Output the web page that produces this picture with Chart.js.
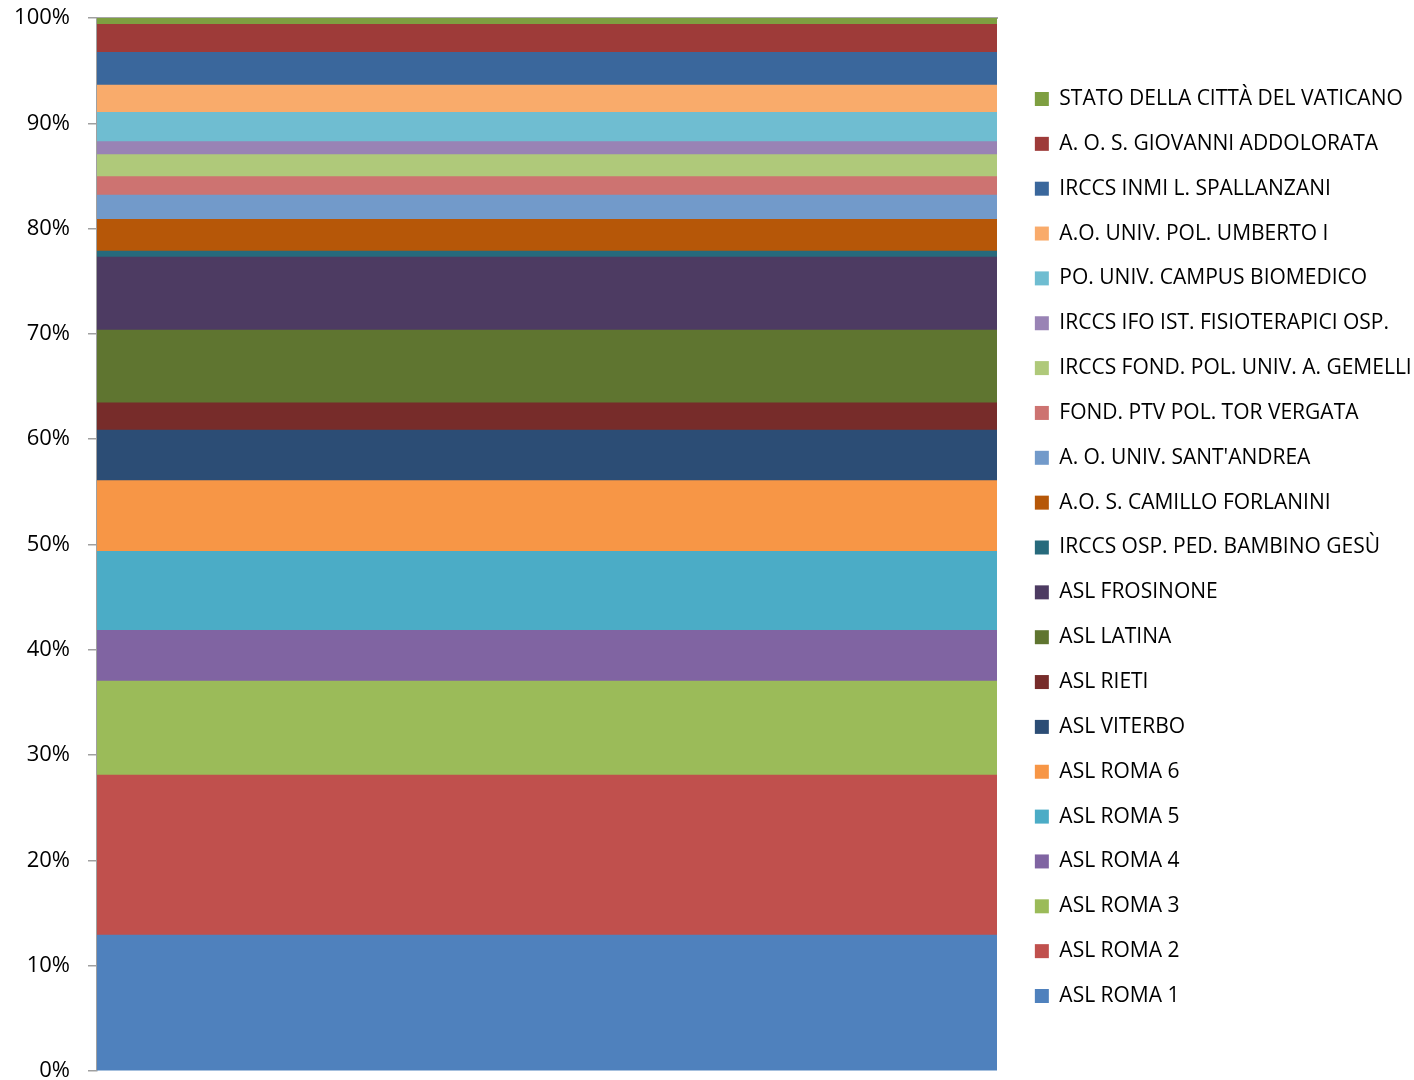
<!DOCTYPE html>
<html>
<head>
<meta charset="utf-8">
<script src="https://cdn.jsdelivr.net/npm/chart.js@4"></script>
<style>
  html, body { margin: 0; padding: 0; background: #ffffff; }
  #wrap { width: 1414px; height: 1080px; position: relative; }
</style>
</head>
<body>
<div id="wrap"><canvas id="c" width="1414" height="1080"></canvas></div>
<script>
// Single category (one 100% stacked column)
const categories = [''];

// Series names, bottom-to-top stacking order
const seriesNames = [
  'ASL ROMA 1',
  'ASL ROMA 2',
  'ASL ROMA 3',
  'ASL ROMA 4',
  'ASL ROMA 5',
  'ASL ROMA 6',
  'ASL VITERBO',
  'ASL RIETI',
  'ASL LATINA',
  'ASL FROSINONE',
  'IRCCS OSP. PED. BAMBINO GESÙ',
  'A.O. S. CAMILLO FORLANINI',
  "A. O. UNIV. SANT'ANDREA",
  'FOND. PTV POL. TOR VERGATA',
  'IRCCS FOND. POL. UNIV. A. GEMELLI',
  'IRCCS IFO IST. FISIOTERAPICI OSP.',
  'PO. UNIV. CAMPUS BIOMEDICO',
  'A.O. UNIV. POL. UMBERTO I',
  'IRCCS INMI L. SPALLANZANI',
  'A. O. S. GIOVANNI ADDOLORATA',
  'STATO DELLA CITTÀ DEL VATICANO'
];

// Share of each series (percent), same order as seriesNames
const seriesValues = [
  12.9, 15.2, 8.93, 4.82, 7.5, 6.72, 4.79, 2.59, 6.92, 6.93,
  0.57, 3.01, 2.30, 1.76, 2.08, 1.24, 2.78, 2.59, 3.11, 2.65, 0.6
];

const seriesColors = [
  '#4F81BD', '#C0504D', '#9BBB59', '#8064A2', '#4BACC6', '#F79646',
  '#2C4D75', '#772C2A', '#5F7530', '#4D3B62', '#276A7C', '#B65708',
  '#729ACA', '#CD7371', '#AFC97A', '#9983B5', '#6FBDD1', '#F9AB6B',
  '#3A679C', '#9E3B39', '#7E9F41'
];

// Y-axis tick values (percent)
const yTicks = [0, 10, 20, 30, 40, 50, 60, 70, 80, 90, 100];

const FONT = "'Open Sans', 'Noto Sans', sans-serif";
const LEGEND_W = 403;

const datasets = seriesNames.map((name, i) => ({
  label: name,
  data: [seriesValues[i]],
  backgroundColor: seriesColors[i],
  borderWidth: 0,
  barPercentage: 1.0,
  categoryPercentage: 1.0
}));

// Give the legend a fixed width (Chart.js otherwise caps a side legend's width)
const legendWidthPlugin = {
  id: 'legendWidth',
  beforeLayout(chart) {
    const lg = chart.legend;
    if (lg && !lg.__patched) {
      const orig = lg.fit;
      lg.fit = function () { orig.call(this); this.width = LEGEND_W; };
      lg.__patched = true;
    }
  }
};

new Chart(document.getElementById('c'), {
  type: 'bar',
  data: { labels: categories, datasets },
  plugins: [legendWidthPlugin],
  options: {
    responsive: false,
    animation: false,
    events: [],
    layout: { padding: { top: 18, bottom: 9, left: 0, right: 0 } },
    plugins: {
      tooltip: { enabled: false },
      legend: {
        position: 'right',
        reverse: true,
        title: { display: true, text: '', font: { size: 5 }, padding: 0 },
        labels: {
          boxWidth: 14,
          boxHeight: 14,
          padding: 23.85,
          color: '#000000',
          font: { family: FONT, size: 21 }
        }
      }
    },
    scales: {
      x: {
        stacked: true,
        position: 'top',
        grid: { display: false },
        ticks: { display: false },
        border: { display: true, color: '#a6a6a6', width: 2 },
        afterFit: (s) => { s.height = 0; s.paddingLeft = 0; s.paddingRight = 0; }
      },
      y: {
        stacked: true,
        min: 0,
        max: 100,
        afterFit: (s) => { s.width = 97; s.paddingTop = 0; s.paddingBottom = 0; },
        afterBuildTicks: (s) => { s.ticks = yTicks.map(v => ({ value: v })); },
        grid: {
          display: true,
          drawOnChartArea: false,
          drawTicks: true,
          tickLength: 9,
          color: '#a0a0a0',
          lineWidth: 1.5
        },
        border: { display: true, color: '#a0a0a0', width: 1.5 },
        ticks: {
          padding: 18,
          color: '#000000',
          font: { family: FONT, size: 22 },
          callback: (v) => v + '%'
        }
      },
      yGap: {
        position: 'right',
        display: true,
        grid: { display: false },
        border: { display: false },
        ticks: { display: false },
        afterFit: (s) => { s.width = 14; s.paddingTop = 0; s.paddingBottom = 0; }
      }
    }
  }
});
</script>
</body>
</html>
